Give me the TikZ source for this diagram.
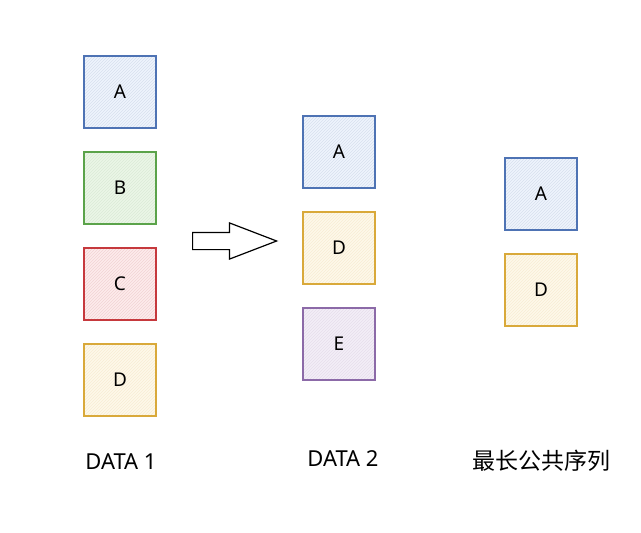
\documentclass[tikz,border=0pt]{standalone}
\usepackage{fontspec}
\setmainfont{Noto Sans}
\newfontfamily\cjk{Noto Sans CJK SC}
\usetikzlibrary{shapes,arrows,positioning,patterns}
\definecolor{blueline}{HTML}{4E73B4}
\definecolor{bluefill}{HTML}{EEF4FD}
\definecolor{greenline}{HTML}{5BA34A}
\definecolor{greenfill}{HTML}{EBF6E7}
\definecolor{redline}{HTML}{C6393D}
\definecolor{redfill}{HTML}{FDEBEB}
\definecolor{yellowline}{HTML}{D9A93A}
\definecolor{yellowfill}{HTML}{FEF9E9}
\definecolor{purpleline}{HTML}{8C6AA8}
\definecolor{purplefill}{HTML}{F3EEF7}
\tikzstyle{letterbox} = [rectangle, line width=1.4pt, minimum size=72pt, inner sep=0pt, font=\fontsize{19}{21}\selectfont]
\tikzstyle{bluebox} = [letterbox, preaction={fill=bluefill}, preaction={pattern=north east lines, pattern color=blueline!22}, draw=blueline]
\tikzstyle{greenbox} = [letterbox, preaction={fill=greenfill}, preaction={pattern=north east lines, pattern color=greenline!22}, draw=greenline]
\tikzstyle{redbox} = [letterbox, preaction={fill=redfill}, preaction={pattern=north east lines, pattern color=redline!22}, draw=redline]
\tikzstyle{yellowbox} = [letterbox, preaction={fill=yellowfill}, preaction={pattern=north east lines, pattern color=yellowline!22}, draw=yellowline]
\tikzstyle{purplebox} = [letterbox, preaction={fill=purplefill}, preaction={pattern=north east lines, pattern color=purpleline!22}, draw=purpleline]
\tikzstyle{caption} = [font=\fontsize{22}{24}\selectfont]
\begin{document}
\begin{tikzpicture}[x=1pt, y=-1pt, node distance=22.6pt]
\useasboundingbox (0,0) rectangle (641,533);
% DATA 1
\node [bluebox] (a1) at (120,92) {A};
\node [greenbox, below=of a1] (b1) {B};
\node [redbox, below=of b1] (c1) {C};
\node [yellowbox, below=of c1] (d1) {D};
\node [caption] (data1) at (121,462) {DATA 1};
% DATA 2
\node [bluebox] (a2) at (339,152) {A};
\node [yellowbox, below=of a2] (d2) {D};
\node [purplebox, below=of d2] (e2) {E};
\node [caption] (data2) at (343,459) {DATA 2};
% result
\node [bluebox] (a3) at (541,194) {A};
\node [yellowbox, below=of a3] (d3) {D};
\node [caption] (lcs) at (541,461) {\cjk\fontsize{23}{25}\selectfont 最长公共序列};
% arrow
\node [single arrow, draw, fill=white, line width=1.2pt, anchor=tail, inner xsep=0pt, inner ysep=8pt,
       minimum height=84pt, single arrow head extend=9.5pt, single arrow tip angle=42] (arrow) at (192,241) {};
\end{tikzpicture}
\end{document}
